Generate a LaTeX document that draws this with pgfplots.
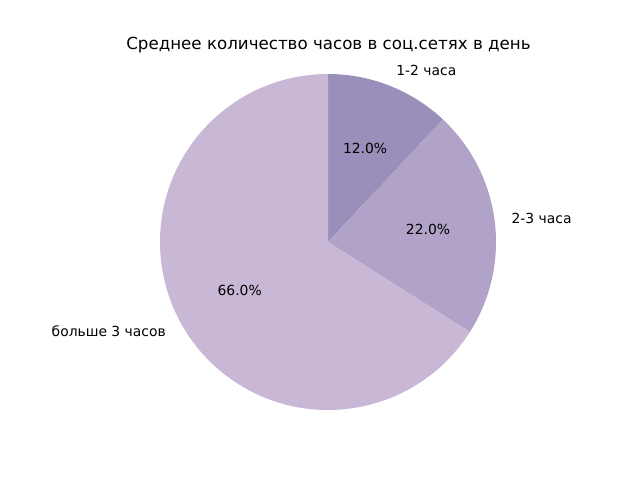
\documentclass[border=0pt]{standalone}
\usepackage{fontspec}
\setmainfont{DejaVu Sans}
\usepackage{pgfplots}
\pgfplotsset{compat=1.18}
\definecolor{SliceA}{HTML}{9A8FBA}
\definecolor{SliceB}{HTML}{B1A2C8}
\definecolor{SliceC}{HTML}{C8B8D6}

% pie: shares in percent, start at 90 deg, clockwise
\def\va{12}  % 1-2 часа
\def\vb{22}  % 2-3 часа
\def\vc{66}  % больше 3 часов
\def\R{120.96pt}

\begin{document}
\begin{tikzpicture}
\begin{axis}[
    width=460.8pt,
    height=345.6pt,
    scale only axis,
    xmin=0, xmax=640,
    ymin=0, ymax=480,
    hide axis,
    clip=false,
]
\path (axis cs:0,0) rectangle (axis cs:640,480);
\fill[SliceA] (axis cs:328,238) -- ++(90:\R)
    arc[start angle=90, end angle={90-3.6*\va}, radius=\R] -- cycle;
\fill[SliceB] (axis cs:328,238) -- ++({90-3.6*\va}:\R)
    arc[start angle={90-3.6*\va}, end angle={90-3.6*(\va+\vb)}, radius=\R] -- cycle;
\fill[SliceC] (axis cs:328,238) -- ++({90-3.6*(\va+\vb)}:\R)
    arc[start angle={90-3.6*(\va+\vb)}, end angle={90-3.6*(\va+\vb+\vc)}, radius=\R] -- cycle;
% labels at 1.1 r, percentages at 0.6 r
\path (axis cs:328,238) ++({90-3.6*\va/2}:1.1*\R) node[anchor=west,inner sep=0pt] {1-2 часа};
\path (axis cs:328,238) ++({90-3.6*(\va+\vb/2)}:1.1*\R) node[anchor=west,inner sep=0pt] {2-3 часа};
\path (axis cs:328,238) ++({90-3.6*(\va+\vb+\vc/2)}:1.1*\R) node[anchor=east,inner sep=0pt] {больше 3 часов};
\path (axis cs:328,238) ++({90-3.6*\va/2}:0.6*\R) node[inner sep=0pt] {12.0\%};
\path (axis cs:328,238) ++({90-3.6*(\va+\vb/2)}:0.6*\R) node[inner sep=0pt] {22.0\%};
\path (axis cs:328,238) ++({90-3.6*(\va+\vb+\vc/2)}:0.6*\R) node[inner sep=0pt] {66.0\%};
\node[anchor=base,font=\fontsize{12}{14}\selectfont] at (axis cs:328.5,430) {Среднее количество часов в соц.сетях в день};
\end{axis}
\end{tikzpicture}
\end{document}
